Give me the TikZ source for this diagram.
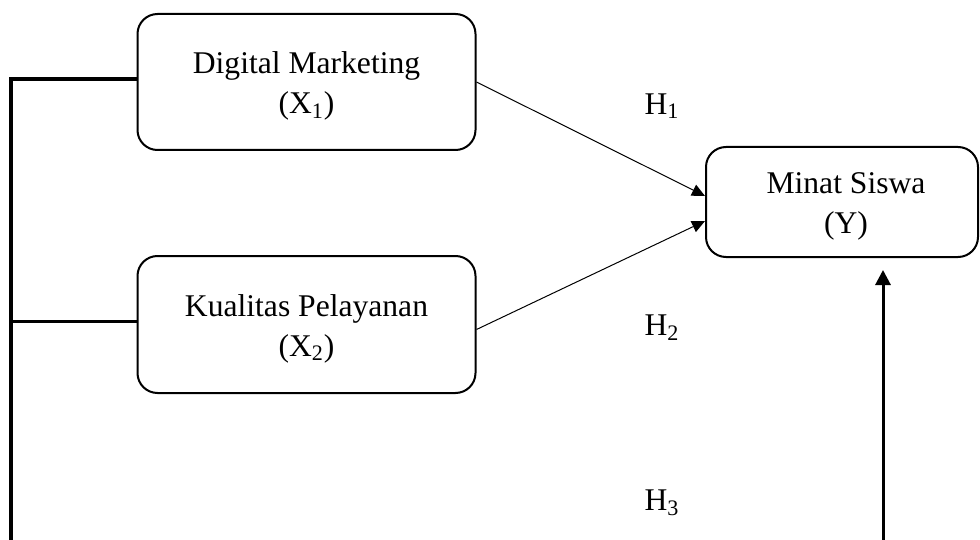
\documentclass[tikz,border=0pt]{standalone}
\usepackage{fontspec}
\setmainfont{Liberation Serif}
\usetikzlibrary{arrows.meta,calc}
\begin{document}
\begin{tikzpicture}[x=0.5pt,y=-0.5pt,
  txt/.style={font=\fontsize{15.8}{20}\selectfont},
  varbox/.style={draw,line width=1pt,rounded corners=10pt,inner sep=0pt},
  boxtext/.style={txt,align=center,yshift=-2pt},
  thinarrow/.style={line width=0.5pt,-{Triangle[length=6.5pt,width=6pt]}},
  thickarrow/.style={line width=1.5pt,-{Triangle[length=7.5pt,width=7.5pt]}},
  thickline/.style={line width=1.8pt,line join=miter}]
\useasboundingbox (0,0) rectangle (980,540);
\node[varbox,minimum width=169pt,minimum height=68pt,
  label={[boxtext]center:Digital Marketing\\(X\textsubscript{1})}] (X1) at (306.5,82) {};
\node[varbox,minimum width=169pt,minimum height=68.5pt,
  label={[boxtext]center:Kualitas Pelayanan\\(X\textsubscript{2})}] (X2) at (306.5,324.5) {};
\node[varbox,minimum width=136pt,minimum height=55pt,
  label={[boxtext,xshift=2pt]center:Minat Siswa\\(Y)}] (Y) at (842,202) {};
\node[txt] (H1) at (662,106) {H\textsubscript{1}};
\node[txt] (H2) at (662,328) {H\textsubscript{2}};
\node[txt] (H3) at (662,503) {H\textsubscript{3}};
\coordinate (lb) at (11,545);
\coordinate (yb) at (883,545);
\coordinate (x1w) at ($(X1.west)+(0,-3)$);
\coordinate (x2w) at ($(X2.west)+(0,-3)$);
\draw[thinarrow] (X1.east) -- ($(Y.west)+(0,-6)$);
\draw[thinarrow] ($(X2.east)+(0,5)$) -- ($(Y.west)+(0,19)$);
\draw[thickline] (lb) |- (x1w);
\draw[thickline] (x2w) -- (x2w -| lb);
\draw[thickarrow,shorten >=6pt] (yb) -- (yb |- Y.south);
\end{tikzpicture}
\end{document}
